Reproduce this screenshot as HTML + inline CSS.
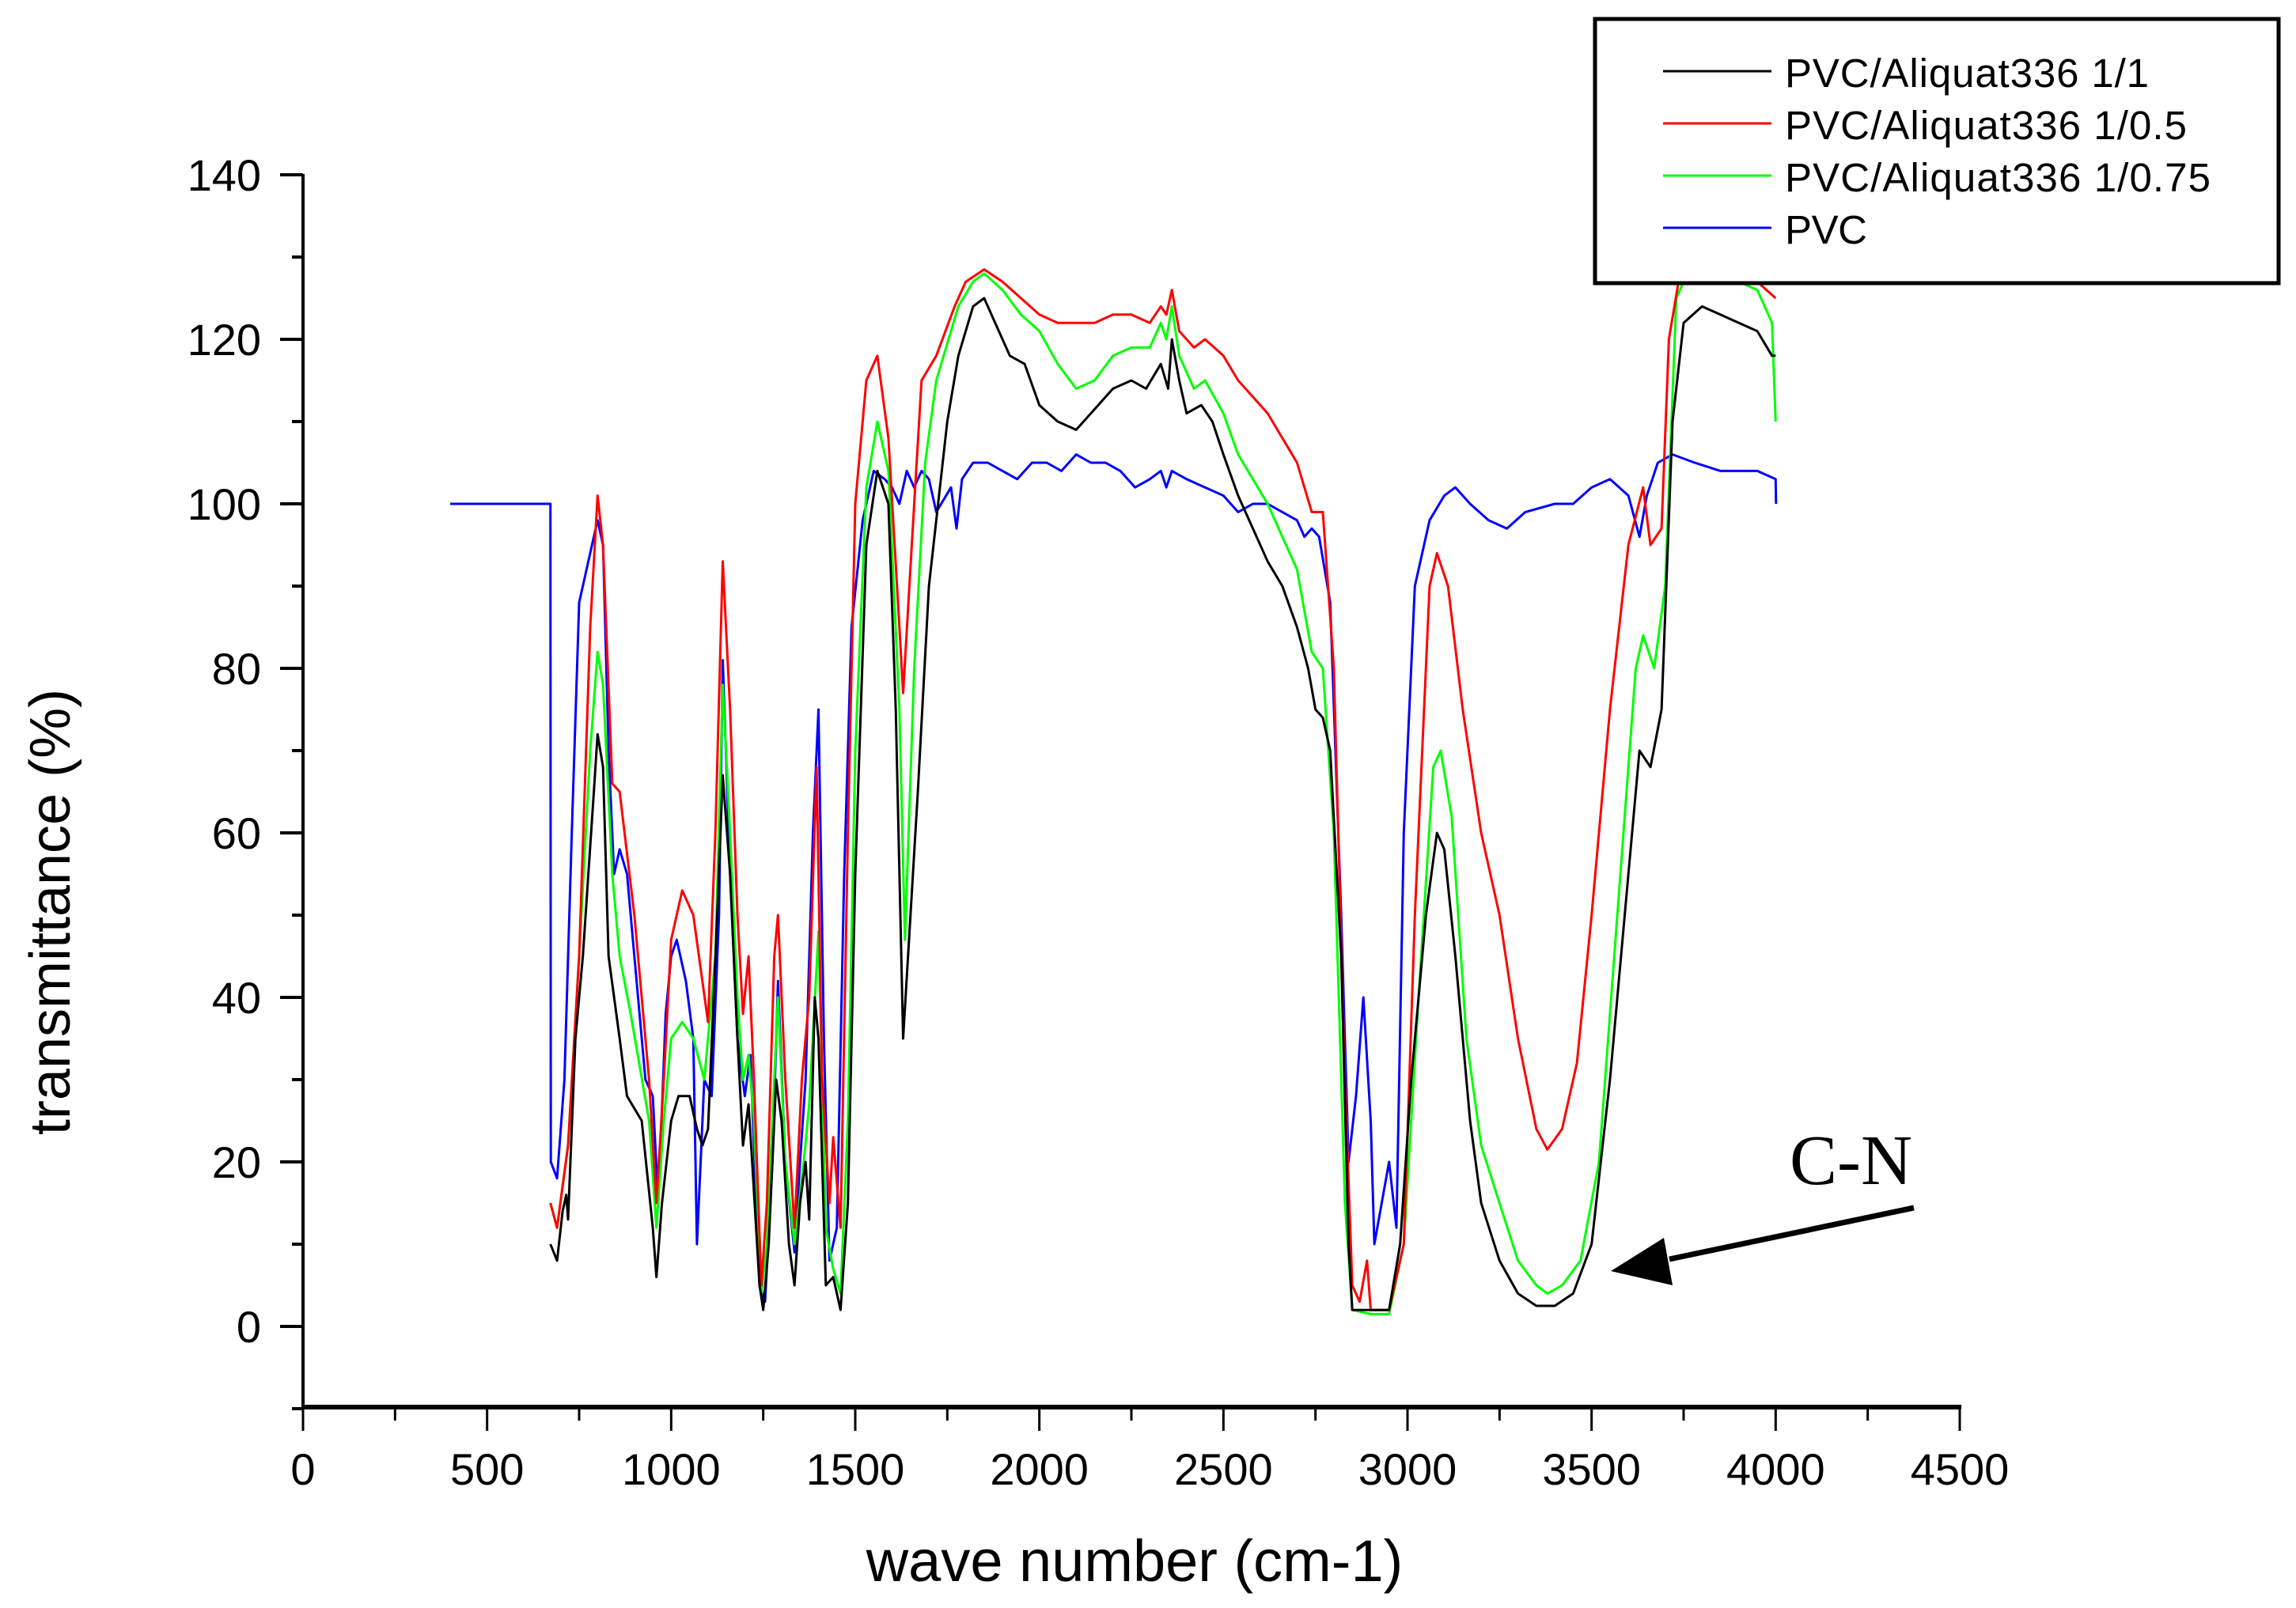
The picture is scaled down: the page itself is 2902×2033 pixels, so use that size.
<!DOCTYPE html>
<html><head><meta charset="utf-8"><style>html,body{margin:0;padding:0;background:#fff}svg{display:block}text{font-family:"Liberation Sans",Arial,sans-serif}</style></head>
<body>
<svg id="chart" width="2902" height="2033" viewBox="0 0 2902 2033" xmlns="http://www.w3.org/2000/svg">
<g id="axes"></g>
<g id="series"></g>
<g>
<rect x="2016" y="24" width="864" height="334" fill="#fff" stroke="#000" stroke-width="5"/>
<line x1="2102" y1="90" x2="2239" y2="90" stroke="#000" stroke-width="3"/>
<text x="2256" y="110" font-size="51" textLength="460">PVC/Aliquat336 1/1</text>
<line x1="2102" y1="156" x2="2239" y2="156" stroke="#f00" stroke-width="3"/>
<text x="2256" y="176" font-size="51" textLength="508">PVC/Aliquat336 1/0.5</text>
<line x1="2102" y1="222" x2="2239" y2="222" stroke="#0f0" stroke-width="3"/>
<text x="2256" y="242" font-size="51" textLength="538">PVC/Aliquat336 1/0.75</text>
<line x1="2102" y1="288" x2="2239" y2="288" stroke="#00f" stroke-width="3"/>
<text x="2256" y="308" font-size="51" textLength="104">PVC</text>
</g>
<text x="88" y="1153" font-size="72" text-anchor="middle" transform="rotate(-90 88 1153)">transmittance (%)</text>
<text x="2262" y="1497" style="font-family:'Liberation Serif',serif;font-size:90px">C-N</text>
<line x1="2419" y1="1527" x2="2110" y2="1592" stroke="#000" stroke-width="7"/>
<polygon points="2036,1607 2103,1565 2114,1625" fill="#000"/>
</svg>
<script>
const xTicks=[0,500,1000,1500,2000,2500,3000,3500,4000,4500];
const yTicks=[0,20,40,60,80,100,120,140];
const bkW=[672,690,705,715,720,740,760,790,800,815,830,860,880,920,950,960,975,1000,1020,1050,1070,1085,1100,1125,1140,1160,1180,1195,1210,1220,1240,1250,1265,1285,1300,1320,1335,1350,1365,1375,1390,1400,1420,1440,1460,1480,1500,1530,1560,1590,1610,1630,1650,1670,1700,1750,1780,1820,1850,1880,1920,1960,2000,2050,2100,2140,2200,2250,2290,2330,2350,2360,2380,2400,2440,2470,2500,2540,2580,2620,2660,2700,2730,2750,2770,2790,2820,2840,2850,2900,2950,2980,3010,3050,3080,3100,3130,3170,3200,3250,3300,3350,3400,3450,3500,3550,3600,3630,3660,3690,3720,3750,3800,3850,3900,3950,3990,4000];
const bkT=[10,8,14,16,13,35,45,65,72,68,45,35,28,25,12,6,15,25,28,28,24,22,24,50,67,55,35,22,27,20,5,2,10,30,25,10,5,15,20,13,40,35,5,6,2,15,55,95,104,100,75,35,50,65,90,110,118,124,125,122,118,117,112,110,109,111,114,115,114,117,114,120,115,111,112,110,106,101,97,93,90,85,80,75,74,70,45,10,2,2,2,10,30,50,60,58,45,25,15,8,4,2.5,2.5,4,10,30,55,70,68,75,110,122,124,123,122,121,118,118];
const rdW=[672,690,720,750,780,800,815,840,860,900,940,960,980,1000,1030,1060,1100,1120,1140,1160,1180,1195,1210,1225,1245,1260,1280,1290,1310,1335,1355,1375,1395,1410,1430,1440,1460,1480,1500,1530,1560,1590,1620,1630,1660,1680,1720,1770,1800,1850,1900,1950,2000,2050,2100,2150,2200,2250,2300,2330,2345,2360,2380,2420,2450,2500,2540,2580,2620,2660,2700,2740,2770,2800,2830,2850,2870,2890,2900,2950,2990,3020,3060,3080,3110,3150,3200,3250,3300,3350,3380,3420,3460,3500,3550,3600,3640,3660,3690,3710,3740,3800,3900,3950,4000];
const rdT=[15,12,22,45,85,101,95,66,65,50,30,15,30,47,53,50,37,60,93,75,50,38,45,30,5,15,45,50,30,12,30,40,68,30,15,23,12,60,100,115,118,108,85,77,100,115,118,124,127,128.5,127,125,123,122,122,122,123,123,122,124,123,126,121,119,120,118,115,113,111,108,105,99,99,80,30,5,3,8,2,2,10,50,90,94,90,75,60,50,35,24,21.5,24,32,50,75,95,102,95,97,120,128,128,128,127,125];
const grW=[672,690,720,750,780,800,815,840,860,890,940,960,980,1000,1030,1060,1090,1120,1140,1160,1180,1195,1210,1225,1245,1260,1290,1310,1335,1360,1375,1400,1420,1440,1460,1480,1500,1530,1560,1590,1620,1635,1660,1690,1720,1780,1820,1850,1900,1950,2000,2050,2100,2150,2200,2250,2300,2330,2345,2360,2380,2420,2450,2500,2540,2580,2620,2660,2700,2740,2770,2800,2830,2850,2900,2950,2990,3030,3070,3090,3120,3160,3200,3250,3300,3350,3380,3420,3470,3520,3570,3620,3640,3670,3700,3730,3760,3850,3950,3990,4000];
const grT=[15,12,22,45,70,82,78,55,45,38,25,12,25,35,37,35,30,45,78,60,40,30,33,25,4,10,40,20,10,20,27,48,12,7,4,25,70,102,110,104,75,47,80,105,115,124,127,128,126,123,121,117,114,115,118,119,119,122,120,124,118,114,115,111,106,103,100,96,92,82,80,60,15,2,1.5,1.5,10,40,68,70,62,35,22,15,8,5,4,5,8,20,50,80,84,80,90,125,128,128,126,122,110];
const buW=[400,672,673,690,710,730,750,770,790,800,815,830,845,860,880,900,930,950,965,985,1000,1015,1040,1060,1070,1090,1110,1130,1140,1160,1180,1200,1215,1240,1255,1275,1290,1310,1335,1350,1365,1385,1400,1415,1430,1450,1470,1490,1520,1550,1580,1600,1620,1640,1660,1680,1700,1720,1760,1775,1790,1820,1860,1900,1940,1980,2020,2060,2100,2140,2180,2220,2260,2300,2330,2345,2360,2400,2450,2500,2540,2580,2620,2660,2700,2720,2740,2760,2790,2820,2840,2860,2880,2900,2910,2930,2950,2970,2990,3020,3060,3100,3130,3170,3220,3270,3320,3400,3450,3500,3550,3600,3630,3650,3680,3720,3780,3850,3950,4000,4001];
const buT=[100,100,20,18,30,60,88,92,96,98,95,70,55,58,55,45,30,28,15,38,45,47,42,35,10,30,28,50,81,55,35,28,33,5,3,20,42,20,9,20,30,60,75,35,8,12,55,85,98,104,103,102,100,104,102,104,103,99,102,97,103,105,105,104,103,105,105,104,106,105,105,104,102,103,104,102,104,103,102,101,99,100,100,99,98,96,97,96,88,50,20,28,40,25,10,15,20,12,60,90,98,101,102,100,98,97,99,100,100,102,103,101,96,101,105,106,105,104,104,103,100];
const X0=383,XS=2094/4500,Y0=1677,YS=1456/140;
const xs=w=>X0+w*XS, ys=t=>Y0-t*YS;
const NS='http://www.w3.org/2000/svg';
function mk(tag,attrs,parent){const e=document.createElementNS(NS,tag);for(const k in attrs)e.setAttribute(k,attrs[k]);parent.appendChild(e);return e;}
const ax=document.getElementById('axes');
let e=mk('line',{x1:X0,y1:220,x2:X0,y2:1781,stroke:'#000','stroke-width':4},ax);


e=mk('line',{x1:X0-2,y1:1779,x2:2479,y2:1779,stroke:'#000','stroke-width':6},ax);


for(let v=-10;v<=140;v+=10){const major=v%20===0;
 e=mk('line',{x1:X0-(major?29:14),y1:ys(v),x2:X0,y2:ys(v),stroke:'#000','stroke-width':4},ax);
 
 }
yTicks.forEach(v=>{e=mk('text',{x:330,y:ys(v)+20,'font-size':56,'text-anchor':'end'},ax);e.textContent=v;
 
 });
for(let v=0;v<=4500;v+=250){const major=v%500===0;
 e=mk('line',{x1:xs(v),y1:1779,x2:xs(v),y2:1779+(major?30:17),stroke:'#000','stroke-width':3},ax);
 
 }
xTicks.forEach(v=>{e=mk('text',{x:xs(v),y:1877,'font-size':56,'text-anchor':'middle'},ax);e.textContent=v;
 
 });
e=mk('text',{x:1434,y:1999,'font-size':74,'text-anchor':'middle'},ax);e.textContent='wave number (cm-1)';


const sg=document.getElementById('series');
[[buW,buT,'#0000ff','series-pvc'],[grW,grT,'#00ff00','series-1-0.75'],[rdW,rdT,'#ff0000','series-1-0.5'],[bkW,bkT,'#000000','series-1-1']].forEach(s=>{
 const d=s[0].map((w,i)=>(i?'L':'M')+xs(w).toFixed(1)+','+ys(s[1][i]).toFixed(1)).join('');
 const p=mk('path',{d:d,fill:'none',stroke:s[2],'stroke-width':3,'stroke-linejoin':'round'},sg);
 
 
});
</script>
</body></html>
